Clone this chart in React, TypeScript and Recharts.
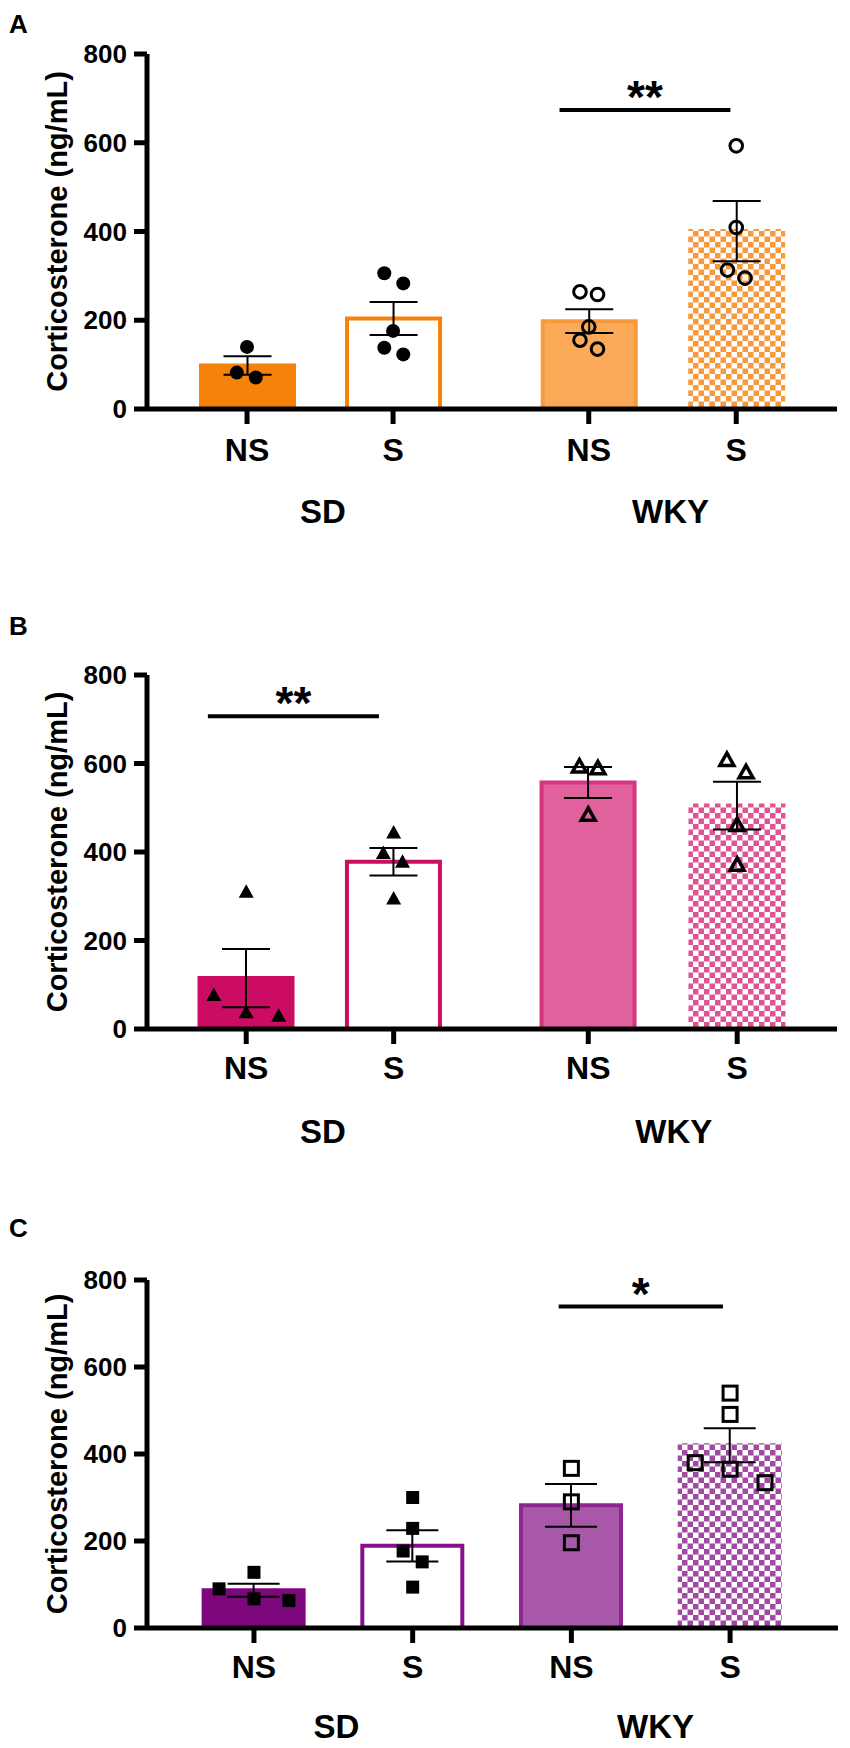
import {
  ComposedChart,
  Bar,
  Cell,
  ErrorBar,
  Scatter,
  XAxis,
  YAxis,
  ReferenceLine,
  ReferenceDot,
} from 'recharts';

const FONT = '"Liberation Sans", Arial, Helvetica, sans-serif';

const conditions = ['NS', 'S', 'NS', 'S'];
const strains = ['SD', 'WKY'];
const yTicks = [0, 200, 400, 600, 800];
const yTitle = 'Corticosterone (ng/mL)';

// A: orange, circles
const posA = [1, 2, 3.34, 4.35];
const meanA = [98, 204, 198, 401];
const semA = [21, 37, 27, 68];
const pointsA = [
  [140, 82, 71],
  [306, 283, 176, 138, 123],
  [264, 258, 185, 155, 135],
  [593, 409, 313, 295],
];
const jitterA = [
  [0, -0.07, 0.06],
  [-0.06, 0.07, 0, -0.06, 0.07],
  [-0.06, 0.06, 0, -0.06, 0.06],
  [0, 0, -0.06, 0.06],
];
const strainPosA = [1.52, 3.9];
const sigXA = [3.14, 4.31];
const sigYA = 674;
const sigTextA = '**';

// B: magenta, triangles
const posB = [1, 2, 3.32, 4.33];
const meanB = [115, 378, 557, 505];
const semB = [66, 31, 35, 54];
const pointsB = [
  [310, 77, 38, 30],
  [444, 398, 378, 295],
  [593, 589, 484],
  [608, 580, 461, 371],
];
const jitterB = [
  [0, -0.22, 0, 0.22],
  [0, -0.07, 0.06, 0],
  [-0.06, 0.065, 0],
  [-0.07, 0.06, 0, 0],
];
const strainPosB = [1.52, 3.9];
const sigXB = [0.74, 1.9];
const sigYB = 707;
const sigTextB = '**';

// C: purple, squares
const posC = [1, 2, 3, 4];
const meanC = [87, 189, 282, 420];
const semC = [15, 36, 49, 39];
const pointsC = [
  [90, 128, 67, 63],
  [300, 229, 177, 152, 94],
  [367, 290, 196],
  [540, 491, 380, 365, 334],
];
const jitterC = [
  [-0.22, 0, 0, 0.22],
  [0, 0, -0.06, 0.06, 0],
  [0, 0, 0],
  [0, 0, -0.22, 0, 0.22],
];
const strainPosC = [1.52, 3.53];
const sigXC = [2.92, 3.955];
const sigYC = 739;
const sigTextC = '*';

function Marker(props: any) {
  const { cx, cy, payload } = props;
  if (cx == null || cy == null) return null;
  switch (payload.kind) {
    case 'dot':
      return <circle cx={cx} cy={cy} r={7} fill="#000" />;
    case 'ring':
      return <circle cx={cx} cy={cy} r={6.3} fill="none" stroke="#000" strokeWidth={3} />;
    case 'tri':
      return (
        <polygon
          points={`${cx},${cy - 7.5} ${cx + 7.5},${cy + 6} ${cx - 7.5},${cy + 6}`}
          fill="#000"
        />
      );
    case 'triOpen':
      return (
        <polygon
          points={`${cx},${cy - 7} ${cx + 7},${cy + 5.5} ${cx - 7},${cy + 5.5}`}
          fill="none"
          stroke="#000"
          strokeWidth={3.5}
        />
      );
    case 'sq':
      return <rect x={cx - 6.5} y={cy - 6.5} width={13} height={13} fill="#000" />;
    default:
      return (
        <rect x={cx - 7} y={cy - 7} width={14} height={14} fill="none" stroke="#000" strokeWidth={3} />
      );
  }
}

function YTitle(props: any) {
  const vb = props.viewBox;
  const cx = vb.x + 57;
  const cy = vb.y + vb.height / 2;
  return (
    <text
      x={cx}
      y={cy}
      transform={`rotate(-90 ${cx} ${cy})`}
      textAnchor="middle"
      dominantBaseline="central"
      fill="#000"
      fontFamily={FONT}
      fontWeight={700}
      fontSize={29}
    >
      {yTitle}
    </text>
  );
}

function Panel(p: any) {
  const data = p.pos.map((x: number, i: number) => ({ x, mean: p.mean[i], sem: p.sem[i] }));
  const dots = p.points.flatMap((vals: number[], i: number) =>
    vals.map((y, j) => ({ x: p.pos[i] + p.jitter[i][j], y, kind: p.markers[i] }))
  );
  const tickFont = { fill: '#000', fontFamily: FONT, fontWeight: 700 };
  const pid = `chk${p.letter}`;
  const fills = p.fills.map((f: string) => (f === 'chk' ? `url(#${pid})` : f));
  const strokes = p.strokes.map((f: string) => (f === 'chk' ? `url(#${pid})` : f));

  return (
    <div style={{ position: 'absolute', left: 0, top: p.top, width: 850, height: p.height }}>
      <div
        style={{
          position: 'absolute',
          left: 9,
          top: p.letterTop,
          fontFamily: FONT,
          fontWeight: 700,
          fontSize: 26,
          lineHeight: '26px',
        }}
      >
        {p.letter}
      </div>
      <ComposedChart
        width={850}
        height={p.height}
        data={data}
        margin={{ top: p.plotTop, right: p.right, bottom: p.bottom, left: 0 }}
      >
        <defs>
          <pattern id={pid} width={11} height={11} patternUnits="userSpaceOnUse">
            <rect width={11} height={11} fill="#fff" />
            <rect x={0} y={0} width={5.5} height={5.5} fill={p.checker} />
            <rect x={5.5} y={5.5} width={5.5} height={5.5} fill={p.checker} />
          </pattern>
        </defs>
        <XAxis
          dataKey="x"
          type="number"
          domain={p.domain}
          ticks={p.pos}
          interval={0}
          allowDataOverflow
          tickFormatter={(_v: number, i: number) => conditions[i]}
          height={120}
          tickSize={15}
          tickMargin={p.tickMargin}
          axisLine={{ stroke: '#000', strokeWidth: 5 }}
          tickLine={{ stroke: '#000', strokeWidth: 5 }}
          tick={{ ...tickFont, fontSize: 32 }}
        />
        <XAxis xAxisId="pts" dataKey="x" type="number" domain={p.domain} allowDataOverflow hide />
        <YAxis
          type="number"
          domain={[0, 800]}
          ticks={yTicks}
          interval={0}
          width={147}
          tickSize={13}
          tickMargin={7}
          axisLine={{ stroke: '#000', strokeWidth: 5 }}
          tickLine={{ stroke: '#000', strokeWidth: 5 }}
          tick={{ ...tickFont, fontSize: 26 }}
          label={{ value: yTitle, content: YTitle }}
        />
        <Bar dataKey="mean" barSize={p.barSize} isAnimationActive={false}>
          {data.map((_d: any, i: number) => (
            <Cell key={i} fill={fills[i]} stroke={strokes[i]} strokeWidth={4} />
          ))}
          <ErrorBar dataKey="sem" width={p.capWidth} stroke="#000" strokeWidth={2} direction="y" />
        </Bar>
        <Scatter
          xAxisId="pts"
          data={dots}
          dataKey="y"
          shape={Marker}
          isAnimationActive={false}
        />
        <ReferenceLine
          segment={[
            { x: p.sigX[0], y: p.sigY },
            { x: p.sigX[1], y: p.sigY },
          ]}
          stroke="#000"
          strokeWidth={4}
          ifOverflow="visible"
          label={{
            value: p.sigText,
            position: 'top',
            offset: -3,
            fill: '#000',
            fontSize: 46,
            fontWeight: 700,
            fontFamily: FONT,
          }}
        />
        {p.strainPos.map((sx: number, i: number) => (
          <ReferenceDot
            key={strains[i]}
            x={sx}
            y={0}
            r={0}
            stroke="none"
            fill="none"
            ifOverflow="visible"
            label={{
              value: strains[i],
              position: 'bottom',
              offset: p.strainOffset,
              fill: '#000',
              fontSize: 33,
              fontWeight: 700,
              fontFamily: FONT,
            }}
          />
        ))}
      </ComposedChart>
    </div>
  );
}

export default function App() {
  return (
    <div style={{ position: 'relative', width: 850, height: 1748, background: '#fff' }}>
      <style>{'body{margin:0;background:#fff}'}</style>
      <Panel
        letter="A"
        top={0}
        height={545}
        letterTop={11}
        plotTop={54}
        bottom={16}
        right={13}
        domain={[0.315, 5.04]}
        pos={posA}
        mean={meanA}
        sem={semA}
        points={pointsA}
        jitter={jitterA}
        strainPos={strainPosA}
        sigX={sigXA}
        sigY={sigYA}
        sigText={sigTextA}
        markers={['dot', 'dot', 'ring', 'ring']}
        fills={['#F5820B', '#FFFFFF', '#FBAA58', 'chk']}
        strokes={['#F5820B', '#F5820B', '#F79A3C', 'chk']}
        checker="#F79A3E"
        barSize={93}
        capWidth={24}
        tickMargin={14}
        strainOffset={91}
      />
      <Panel
        letter="B"
        top={560}
        height={600}
        letterTop={53}
        plotTop={115}
        bottom={11}
        right={13}
        domain={[0.327, 5.007]}
        pos={posB}
        mean={meanB}
        sem={semB}
        points={pointsB}
        jitter={jitterB}
        strainPos={strainPosB}
        sigX={sigXB}
        sigY={sigYB}
        sigText={sigTextB}
        markers={['tri', 'tri', 'triOpen', 'triOpen']}
        fills={['#CC0C63', '#FFFFFF', '#E0619C', 'chk']}
        strokes={['#CC0C63', '#C90F60', '#D8337F', 'chk']}
        checker="#DD5592"
        barSize={93}
        capWidth={24}
        tickMargin={12}
        strainOffset={91}
      />
      <Panel
        letter="C"
        top={1120}
        height={628}
        letterTop={95}
        plotTop={160}
        bottom={0}
        right={12}
        domain={[0.326, 4.68]}
        pos={posC}
        mean={meanC}
        sem={semC}
        points={pointsC}
        jitter={jitterC}
        strainPos={strainPosC}
        sigX={sigXC}
        sigY={sigYC}
        sigText={sigTextC}
        markers={['sq', 'sq', 'sqOpen', 'sqOpen']}
        fills={['#7D087D', '#FFFFFF', '#A858A8', 'chk']}
        strokes={['#7D087D', '#85108A', '#8E2590', 'chk']}
        checker="#A04AA3"
        barSize={100}
        capWidth={26}
        tickMargin={12}
        strainOffset={87}
      />
    </div>
  );
}
